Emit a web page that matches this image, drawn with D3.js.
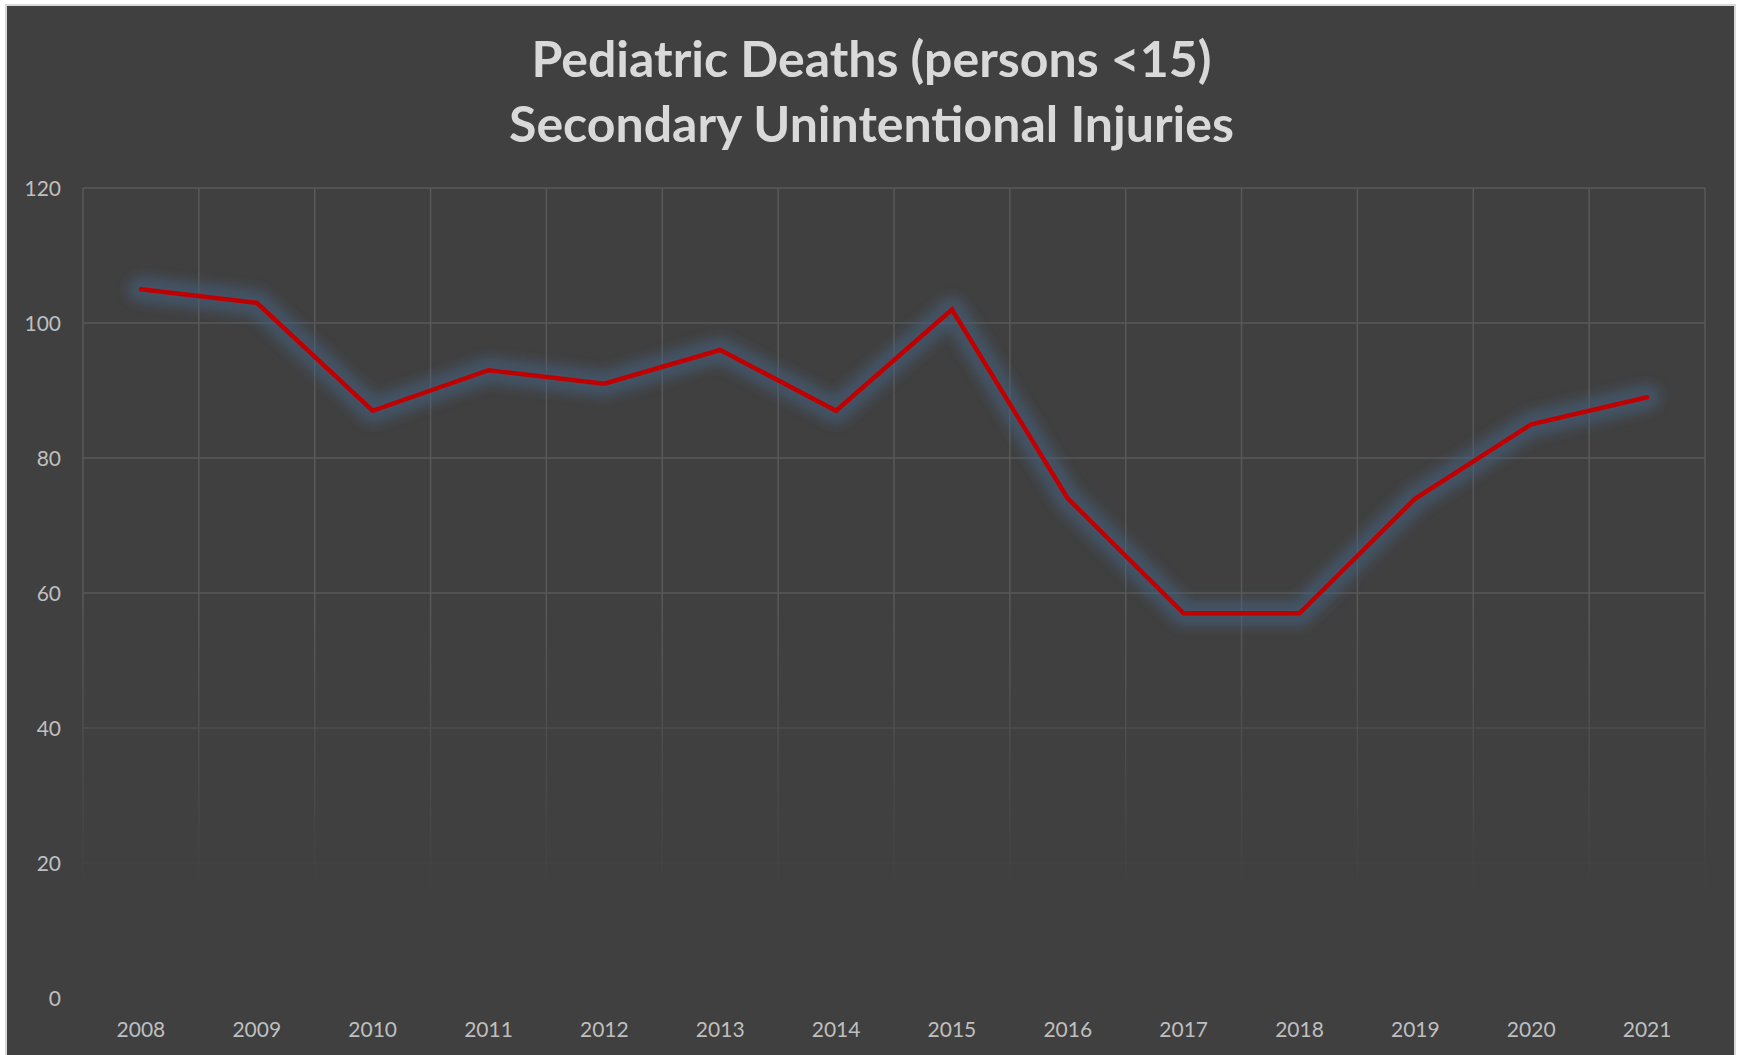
<!DOCTYPE html>
<html>
<head>
<meta charset="utf-8">
<script src="https://cdn.jsdelivr.net/npm/d3@7"></script>
<style>
  body { margin: 0; background: #fff; }
  svg { display: block; }
</style>
</head>
<body>
<svg id="chart" width="1739" height="1055"></svg>
<script>
// chart data
const years = ["2008","2009","2010","2011","2012","2013","2014","2015","2016","2017","2018","2019","2020","2021"];
const deaths = [105, 103, 87, 93, 91, 96, 87, 102, 74, 57, 57, 74, 85, 89];
const yTicks = [0, 20, 40, 60, 80, 100, 120];
const titleLines = ["Pediatric Deaths (persons <15)", "Secondary Unintentional Injuries"];

var svg = d3.select("#chart"),
    width = +svg.attr("width"),
    height = +svg.attr("height");

var margin = {left: 83, right: 34, top: 188, bottom: 57};

var defs = svg.append("defs");

// grid fades out towards the bottom
var grad = defs.append("linearGradient")
    .attr("id", "gridFade")
    .attr("gradientUnits", "userSpaceOnUse")
    .attr("x1", 0).attr("y1", 600).attr("x2", 0).attr("y2", 900);
grad.append("stop").attr("offset", 0).attr("stop-color", "#fff").attr("stop-opacity", 1);
grad.append("stop").attr("offset", 1).attr("stop-color", "#fff").attr("stop-opacity", 0);
defs.append("mask")
    .attr("id", "gridMask")
    .attr("maskUnits", "userSpaceOnUse")
    .attr("x", 0).attr("y", 0).attr("width", width).attr("height", height)
  .append("rect")
    .attr("width", width).attr("height", height)
    .attr("fill", "url(#gridFade)");

defs.append("filter")
    .attr("id", "glow")
    .attr("x", "-10%").attr("y", "-20%").attr("width", "120%").attr("height", "140%")
  .append("feGaussianBlur")
    .attr("stdDeviation", 6);

// frame + background
svg.append("rect")
    .attr("x", 6).attr("y", 5)
    .attr("width", width - 10).attr("height", height + 10)
    .attr("fill", "#404040")
    .attr("stroke", "#d9d9d9")
    .attr("stroke-width", 2);

var x = d3.scaleBand()
    .domain(years)
    .range([margin.left, width - margin.right]);

var y = d3.scaleLinear()
    .domain([0, 120])
    .range([height - margin.bottom, margin.top]);

// gridlines
var grid = svg.append("g")
    .attr("mask", "url(#gridMask)")
    .attr("stroke", "#595959")
    .attr("stroke-width", 1.5);

grid.selectAll("line.h")
    .data(yTicks.filter(function(d) { return d > 0; }))
    .enter().append("line")
      .attr("class", "h")
      .attr("x1", x.range()[0]).attr("x2", x.range()[1])
      .attr("y1", function(d) { return y(d); })
      .attr("y2", function(d) { return y(d); });

var bounds = years.map(function(d) { return x(d); }).concat([x.range()[1]]);
grid.selectAll("line.v")
    .data(bounds)
    .enter().append("line")
      .attr("class", "v")
      .attr("x1", function(d) { return d; }).attr("x2", function(d) { return d; })
      .attr("y1", y(120)).attr("y2", y(0));

// axes
var yAxis = svg.append("g")
    .attr("transform", "translate(" + (margin.left - 22) + ",0)")
    .call(d3.axisLeft(y).tickValues(yTicks).tickSize(0).tickPadding(0));
var xAxis = svg.append("g")
    .attr("transform", "translate(0," + (y(0) + 23) + ")")
    .call(d3.axisBottom(x).tickSize(0).tickPadding(0));

[xAxis, yAxis].forEach(function(ax) {
  ax.select(".domain").remove();
  ax.selectAll("text")
    .attr("fill", "#bfbfbf")
    .style("font-family", "Lato, 'Open Sans', sans-serif")
    .style("font-size", "21px");
});
yAxis.selectAll("text").attr("dy", "0.35em");
xAxis.selectAll("text").attr("dy", "0.75em");

// line with soft blue glow
var line = d3.line()
    .x(function(d, i) { return x(years[i]) + x.bandwidth() / 2; })
    .y(function(d) { return y(d); });

svg.append("path")
    .datum(deaths)
    .attr("d", line)
    .attr("fill", "none")
    .attr("stroke", "#44607e")
    .attr("stroke-opacity", 0.6)
    .attr("stroke-width", 26)
    .attr("stroke-linejoin", "round")
    .attr("stroke-linecap", "round")
    .attr("filter", "url(#glow)");

svg.append("path")
    .datum(deaths)
    .attr("d", line)
    .attr("fill", "none")
    .attr("stroke", "#c00000")
    .attr("stroke-width", 4.5)
    .attr("stroke-linejoin", "miter")
    .attr("stroke-linecap", "round");

// title
svg.append("text")
    .attr("x", width / 2 + 2)
    .attr("y", 77)
    .attr("text-anchor", "middle")
    .attr("fill", "#d9d9d9")
    .style("font-family", "Lato, 'Open Sans', sans-serif")
    .style("font-weight", "bold")
    .style("font-size", "50px")
  .selectAll("tspan")
  .data(titleLines)
  .enter().append("tspan")
    .attr("x", width / 2 + 2)
    .attr("dy", function(d, i) { return i ? 65 : 0; })
    .text(function(d) { return d; });
</script>
</body>
</html>
